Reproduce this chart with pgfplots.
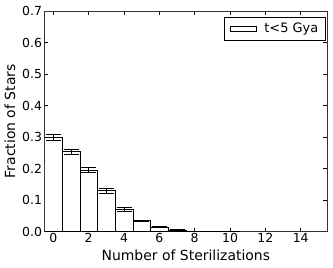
\documentclass[border=0pt]{standalone}
\usepackage{pgfplots}
\pgfplotsset{compat=1.18}
\usepackage{fontspec}
\setmainfont{DejaVu Sans}
\begin{document}
\begin{tikzpicture}
\useasboundingbox (-44.5bp,-36.3bp) rectangle (288.5bp,231.7bp);
\begin{axis}[
  at={(0,0)}, anchor=south west,
  scale only axis, width=282.7bp, height=220.7bp,
  xmin=-0.5, xmax=15.5, ymin=0, ymax=0.7,
  xtick={0,2,4,6,8,10,12,14},
  ytick={0,0.1,0.2,0.3,0.4,0.5,0.6,0.7},
  yticklabel style={xshift=1bp, /pgf/number format/.cd, fixed, fixed zerofill, precision=1},
  /pgf/number format/assume math mode=true,
  tick align=inside, tick pos=both,
  major tick length=4bp,
  tick style={black, line width=0.6bp},
  axis line style={black!80, line width=0.8bp},
  ticklabel style={font=\fontsize{12.5}{15}\selectfont},
  xticklabel style={yshift=2bp},
  label style={font=\fontsize{14}{16}\selectfont},
  xlabel={Number of Sterilizations}, ylabel={Fraction of Stars},
  xlabel style={at={(axis description cs:0.5,-0.109)}, anchor=center},
  ylabel style={at={(axis description cs:-0.122,0.5)}, anchor=center},
  legend style={at={(0.996,0.975)}, anchor=north east, draw=black, line width=0.6bp,
    font=\fontsize{13}{15}\selectfont, inner xsep=5.5bp, inner ysep=4bp},
  legend image code/.code={\draw[draw=black, fill=white, line width=0.6bp] (0bp,-2.5bp) rectangle (26bp,2.5bp);},
  legend cell align=left,
]
\addplot[ybar, bar width=1, fill=white, draw=black, line width=0.6bp,
  error bars/.cd, y dir=both, y explicit,
  error bar style={black, line width=0.8bp},
  error mark options={black, rotate=90, mark size=7.5bp, line width=0.8bp}]
coordinates {
  (0,0.300) +- (0,0.009)
  (1,0.254) +- (0,0.008)
  (2,0.196) +- (0,0.0075)
  (3,0.130) +- (0,0.007)
  (4,0.071) +- (0,0.006)
  (5,0.035) +- (0,0.002)
  (6,0.014) +- (0,0.0015)
  (7,0.006) +- (0,0.001)
  (8,0.002) +- (0,0.0005)
  (9,0.0007) +- (0,0.0003)
  (10,0.0002) +- (0,0.0001)
};
\addlegendentry{\hspace{6bp}t<5 Gya}
\end{axis}
\end{tikzpicture}
\end{document}
